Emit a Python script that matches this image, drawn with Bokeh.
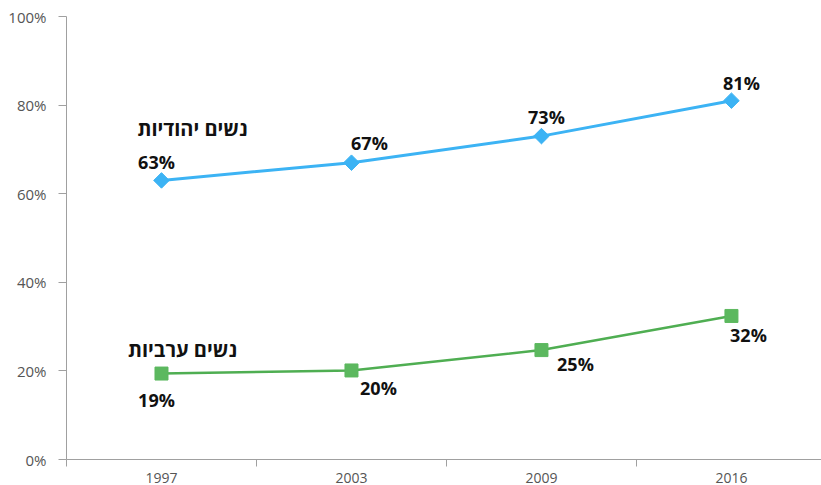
import math
from bokeh.plotting import figure
from bokeh.models import FixedTicker, CustomJSTickFormatter, ColumnDataSource, Range1d
from bokeh.core.properties import value
from bokeh.embed import file_html
from bokeh.resources import INLINE

years = ["1997", "2003", "2009", "2016"]
jewish = [63.0, 67.0, 73.0, 81.0]
arab = [19.4, 20.1, 24.7, 32.4]
jewish_labels = ["63%", "67%", "73%", "81%"]
arab_labels = ["19%", "20%", "25%", "32%"]
jewish_name = "נשים יהודיות"
arab_name = "נשים ערביות"
y_ticks = [0, 20, 40, 60, 80, 100]

xpos = [i + 0.5 for i in range(len(years))]

BLUE = "#3cb3f4"
GREEN = "#5cb85f"
GREEN_LINE = "#4fae52"
FONT = "Open Sans"

p = figure(width=821, height=485, output_backend="svg", toolbar_location=None,
           x_range=Range1d(0, 3.974), y_range=Range1d(0, 100),
           min_border_left=66, min_border_right=0, min_border_top=16, min_border_bottom=25)
p.outline_line_color = None
p.xgrid.visible = False
p.ygrid.visible = False
p.background_fill_color = "white"
p.border_fill_color = "white"

# axes
p.xaxis.ticker = FixedTicker(ticks=xpos, minor_ticks=list(range(len(years) + 1)))
p.xaxis.formatter = CustomJSTickFormatter(args=dict(labels=years),
                                          code="return labels[Math.floor(tick)];")
p.xaxis.major_tick_out = 0
p.xaxis.major_tick_in = 0
p.xaxis.minor_tick_out = 7
p.xaxis.minor_tick_in = 0
p.xaxis.minor_tick_line_color = "#a0a0a0"
p.xaxis.axis_line_color = "#a0a0a0"
p.xaxis.major_label_text_font = FONT
p.xaxis.major_label_text_font_size = "14px"
p.xaxis.major_label_text_color = "#555555"
p.xaxis.major_label_standoff = 6

p.yaxis.ticker = FixedTicker(ticks=y_ticks, minor_ticks=[])
p.yaxis.formatter = CustomJSTickFormatter(code="return tick.toFixed(0) + '%';")
p.yaxis.major_tick_out = 8
p.yaxis.major_tick_in = 0
p.yaxis.major_tick_line_color = "#a0a0a0"
p.yaxis.axis_line_color = "#a0a0a0"
p.yaxis.major_label_text_font = FONT
p.yaxis.major_label_text_font_size = "15px"
p.yaxis.major_label_text_color = "#555555"
p.yaxis.major_label_standoff = 12

src_j = ColumnDataSource(dict(x=xpos, y=jewish, lab=jewish_labels,
                              dx=[-5, 18, 5, 10], dy=[-18, -20, -19, -18]))
src_a = ColumnDataSource(dict(x=xpos, y=arab, lab=arab_labels,
                              dx=[-5, 27, 34, 17], dy=[26, 18, 14, 19]))

p.line("x", "y", source=src_j, line_color=BLUE, line_width=3)
p.scatter("x", "y", source=src_j, marker="square", angle=math.pi / 4, size=11,
          fill_color=BLUE, line_color=BLUE)
p.line("x", "y", source=src_a, line_color=GREEN_LINE, line_width=2.5)
p.scatter("x", "y", source=src_a, marker="square", size=13, fill_color=GREEN, line_color=GREEN)

# data labels
p.text("x", "y", text="lab", source=src_j, text_font=value(FONT), text_font_style="bold",
       text_font_size="18px", text_color="#111111", text_align="center",
       text_baseline="middle", x_offset="dx", y_offset="dy")
p.text("x", "y", text="lab", source=src_a, text_font=value(FONT), text_font_style="bold",
       text_font_size="18px", text_color="#111111", text_align="center",
       text_baseline="middle", x_offset="dx", y_offset="dy")

# series names
p.text(x=[xpos[0]], y=[jewish[0]], text=[jewish_name], text_font=value(FONT),
       text_font_style="bold", text_font_size="20px", text_color="#111111",
       text_align="center", text_baseline="middle", x_offset=31, y_offset=-52)
p.text(x=[xpos[0]], y=[arab[0]], text=[arab_name], text_font=value(FONT),
       text_font_style="bold", text_font_size="20px", text_color="#111111",
       text_align="center", text_baseline="middle", x_offset=21, y_offset=-24)

open("out.html", "w").write(file_html(p, INLINE))
